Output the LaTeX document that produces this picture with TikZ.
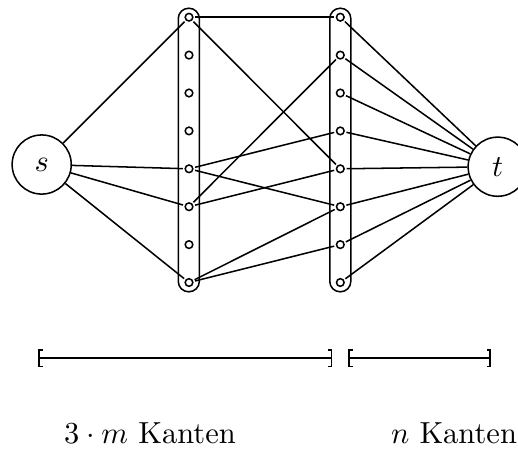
\documentclass[tikz,border=0pt]{standalone}
\usetikzlibrary{arrows.meta}
\begin{document}
\begin{tikzpicture}[x=0.328pt,y=-0.328pt,line width=0.5pt,
  vtx/.style={circle,draw,minimum size=2.5pt,inner sep=0pt,outer sep=0.8pt},
  term/.style={circle,draw,minimum size=19.4pt,inner sep=0pt},
  colbox/.style={draw,rounded corners=3.4pt,minimum width=6.9pt,minimum height=93pt,inner sep=0pt},
  spanline/.style={line width=0.55pt,{Bracket[width=6pt,length=1.2pt]}-{Bracket[width=6pt,length=1.2pt]}},
  lbl/.style={anchor=base,inner sep=0pt}]
\useasboundingbox (0,0) rectangle (518,448);
% columns
\node[colbox] (colL) at (188.8,150) {};
\node[colbox] (colR) at (340.3,150) {};
\foreach \i in {1,...,8} {
  \node[vtx] (L\i) at (189,{17.2+37.9*(\i-1)}) {};
  \node[vtx] (R\i) at (340.3,{17.2+37.9*(\i-1)}) {};
}
% terminals
\node[term] (s) at (41.7,164.5) {$s$};
\node[term] (t) at (497.7,166.7) {$t$};
% edges s -> left column
\draw (s) -- (L1);
\draw (s) -- (L5);
\draw (s) -- (L6);
\draw (s) -- (L8);
% edges between columns
\draw (L1) -- (R1);
\draw (L1) -- (R5);
\draw (L5) -- (R4);
\draw (L5) -- (R6);
\draw (L6) -- (R2);
\draw (L6) -- (R5);
\draw (L8) -- (R6);
\draw (L8) -- (R7);
% right column -> t
\foreach \i in {1,...,8} { \draw (R\i) -- (t); }
% spans
\coordinate (a1) at (38.3,358.3);
\coordinate (a2) at (332.3,358.3);
\coordinate (b1) at (348.3,358.3);
\coordinate (b2) at (491,358.3);
\draw[spanline] (a1) -- (a2);
\draw[spanline] (b1) -- (b2);
% labels
\node[lbl] (lab1) at (150,443) {$3\cdot m$ Kanten};
\node[lbl] (lab2) at (454,443) {$n$ Kanten};
\end{tikzpicture}
\end{document}
